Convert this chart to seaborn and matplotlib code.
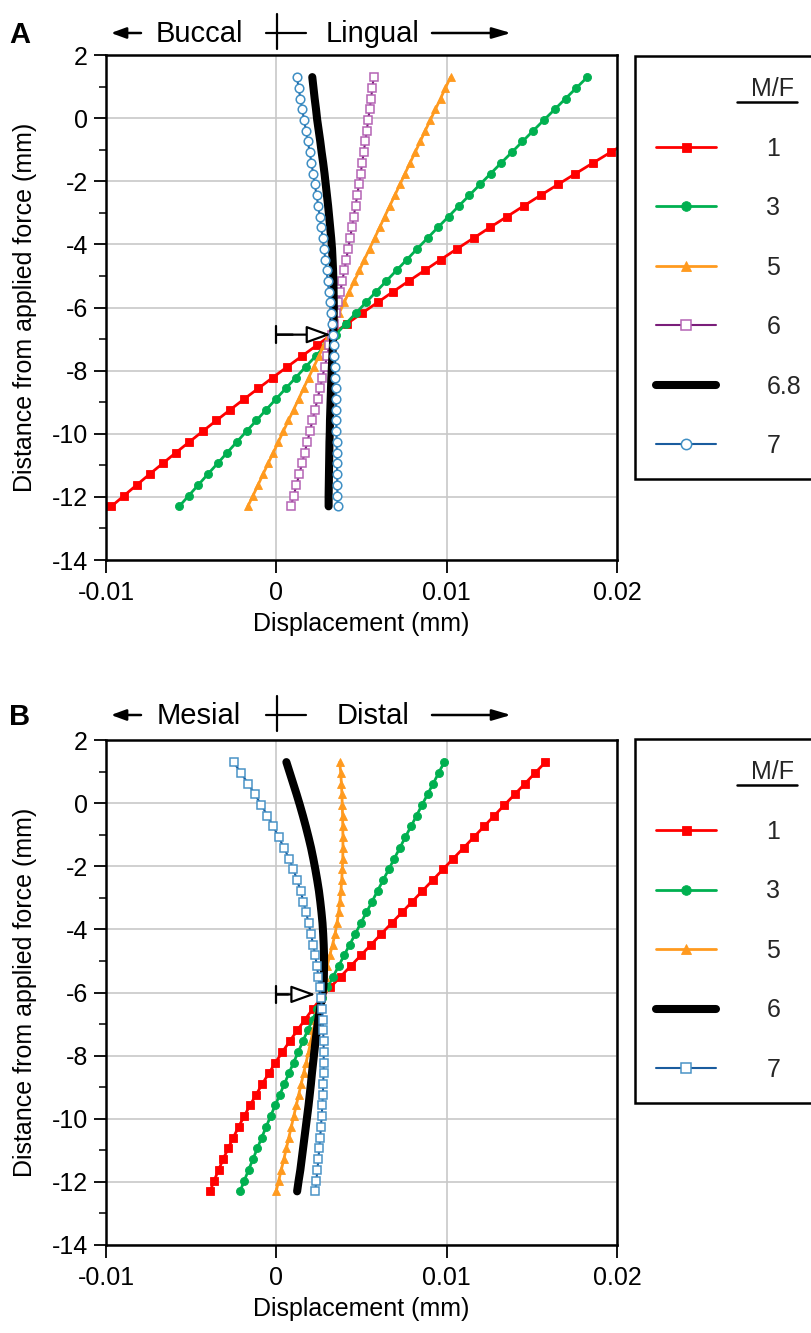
import numpy as np
import matplotlib
matplotlib.use("Agg")
import matplotlib.pyplot as plt
import seaborn as sns
from matplotlib.patches import FancyArrowPatch
from matplotlib.lines import Line2D
from matplotlib.ticker import MultipleLocator

# ---------------- data ----------------
# depth along the tooth (mm from the applied force), shared by all curves
depth_mm = [1.30, 0.96, 0.62, 0.28, -0.06, -0.40, -0.74, -1.08, -1.42, -1.76,
            -2.10, -2.44, -2.78, -3.12, -3.46, -3.80, -4.14, -4.48, -4.82, -5.16,
            -5.50, -5.84, -6.18, -6.52, -6.86, -7.20, -7.54, -7.88, -8.22, -8.56,
            -8.90, -9.24, -9.58, -9.92, -10.26, -10.60, -10.94, -11.28, -11.62, -11.96,
            -12.30]

# Panel A (bucco-lingual) displacement, micrometres
a_mf1_um = [27.17, 26.07, 24.97, 23.88, 22.81, 21.74, 20.68, 19.63, 18.59, 17.56,
            16.54, 15.53, 14.53, 13.54, 12.55, 11.58, 10.61, 9.66, 8.72, 7.78,
            6.85, 5.94, 5.03, 4.13, 3.25, 2.37, 1.50, 0.64, -0.21, -1.05,
            -1.89, -2.71, -3.52, -4.32, -5.11, -5.90, -6.67, -7.44, -8.19, -8.94,
            -9.68]
a_mf3_um = [18.26, 17.62, 16.98, 16.35, 15.71, 15.08, 14.45, 13.83, 13.20, 12.58,
            11.96, 11.34, 10.72, 10.11, 9.49, 8.88, 8.27, 7.67, 7.06, 6.46,
            5.86, 5.26, 4.67, 4.07, 3.48, 2.89, 2.31, 1.72, 1.14, 0.56,
            -0.02, -0.60, -1.17, -1.75, -2.32, -2.89, -3.45, -4.02, -4.58, -5.14,
            -5.70]
a_mf5_um = [10.23, 9.93, 9.64, 9.34, 9.04, 8.74, 8.45, 8.15, 7.85, 7.55,
            7.26, 6.96, 6.66, 6.36, 6.07, 5.77, 5.47, 5.17, 4.88, 4.58,
            4.28, 3.98, 3.69, 3.39, 3.09, 2.79, 2.50, 2.20, 1.90, 1.60,
            1.31, 1.01, 0.71, 0.41, 0.12, -0.18, -0.48, -0.78, -1.07, -1.37,
            -1.67]
a_mf6_um = [5.71, 5.64, 5.56, 5.48, 5.39, 5.31, 5.22, 5.13, 5.04, 4.95,
            4.85, 4.75, 4.65, 4.54, 4.44, 4.33, 4.22, 4.10, 3.99, 3.87,
            3.75, 3.63, 3.50, 3.37, 3.24, 3.11, 2.98, 2.84, 2.70, 2.56,
            2.42, 2.27, 2.12, 1.97, 1.82, 1.66, 1.51, 1.35, 1.18, 1.02,
            0.85]
a_mf68_um = [2.11, 2.18, 2.25, 2.33, 2.40, 2.49, 2.58, 2.66, 2.75, 2.83,
             2.90, 2.97, 3.04, 3.10, 3.16, 3.22, 3.27, 3.30, 3.33, 3.35,
             3.36, 3.37, 3.37, 3.36, 3.34, 3.32, 3.29, 3.26, 3.23, 3.21,
             3.19, 3.17, 3.15, 3.14, 3.12, 3.11, 3.10, 3.09, 3.08, 3.07,
             3.07]
a_mf7_um = [1.21, 1.31, 1.41, 1.52, 1.63, 1.74, 1.85, 1.96, 2.06, 2.16,
            2.26, 2.36, 2.46, 2.55, 2.64, 2.72, 2.80, 2.88, 2.95, 3.02,
            3.09, 3.15, 3.21, 3.27, 3.32, 3.36, 3.40, 3.43, 3.46, 3.48,
            3.50, 3.51, 3.52, 3.53, 3.54, 3.55, 3.56, 3.57, 3.58, 3.59,
            3.60]

# Panel B (mesio-distal) displacement, micrometres
b_mf1_um = [15.80, 15.20, 14.60, 14.00, 13.39, 12.79, 12.19, 11.59, 10.99, 10.38,
            9.78, 9.18, 8.58, 7.98, 7.38, 6.77, 6.17, 5.57, 4.97, 4.37,
            3.77, 3.16, 2.62, 2.14, 1.68, 1.23, 0.79, 0.36, -0.05, -0.44,
            -0.83, -1.19, -1.55, -1.89, -2.22, -2.53, -2.83, -3.12, -3.39, -3.65,
            -3.89]
b_mf3_um = [9.86, 9.53, 9.21, 8.88, 8.55, 8.23, 7.90, 7.57, 7.25, 6.92,
            6.60, 6.27, 5.94, 5.62, 5.29, 4.96, 4.64, 4.31, 3.98, 3.66,
            3.33, 3.00, 2.70, 2.41, 2.13, 1.84, 1.56, 1.29, 1.01, 0.74,
            0.47, 0.20, -0.07, -0.34, -0.60, -0.86, -1.12, -1.37, -1.63, -1.88,
            -2.13]
b_mf5_um = [3.72, 3.78, 3.82, 3.85, 3.87, 3.89, 3.90, 3.91, 3.91, 3.90,
            3.87, 3.84, 3.79, 3.73, 3.66, 3.56, 3.45, 3.30, 3.14, 2.98,
            2.84, 2.72, 2.60, 2.45, 2.31, 2.17, 2.03, 1.89, 1.75, 1.60,
            1.46, 1.31, 1.17, 1.02, 0.88, 0.73, 0.59, 0.44, 0.29, 0.14,
            -0.01]
b_mf6_um = [0.59, 0.79, 0.99, 1.19, 1.38, 1.56, 1.73, 1.89, 2.04, 2.17,
            2.29, 2.40, 2.50, 2.58, 2.65, 2.71, 2.75, 2.78, 2.80, 2.80,
            2.79, 2.76, 2.68, 2.56, 2.46, 2.38, 2.30, 2.23, 2.16, 2.09,
            2.03, 1.96, 1.89, 1.81, 1.73, 1.65, 1.57, 1.49, 1.41, 1.31,
            1.22]
b_mf7_um = [-2.51, -2.08, -1.66, -1.26, -0.88, -0.52, -0.18, 0.14, 0.45, 0.75,
            1.00, 1.22, 1.42, 1.59, 1.75, 1.89, 2.03, 2.16, 2.28, 2.38,
            2.47, 2.55, 2.62, 2.68, 2.72, 2.75, 2.77, 2.78, 2.78, 2.77,
            2.75, 2.73, 2.70, 2.66, 2.62, 2.57, 2.52, 2.47, 2.41, 2.35,
            2.28]

labels_a = ["1", "3", "5", "6", "6.8", "7"]
labels_b = ["1", "3", "5", "6", "7"]

# centre-of-rotation arrows: (tip displacement um, depth mm)
pivot_a = (3.2, -6.86)
pivot_b = (2.3, -6.06)

x_ticks_mm = [-0.01, 0, 0.01, 0.02]
x_tick_labels = ["-0.01", "0", "0.01", "0.02"]
y_ticks = [2, 0, -2, -4, -6, -8, -10, -12, -14]

header_a = ("A", "Buccal", "Lingual")
header_b = ("B", "Mesial", "Distal")
x_label = "Displacement (mm)"
y_label = "Distance from applied force (mm)"
legend_title = "M/F"

# ---------------- styles ----------------
RED = dict(color="#FF0000", marker="s", markersize=5.4, markerfacecolor="#FF0000",
           markeredgecolor="#FF0000", markeredgewidth=0.6, linewidth=2.0)
GREEN = dict(color="#00B050", marker="o", markersize=5.8, markerfacecolor="#00B050",
             markeredgecolor="#00B050", markeredgewidth=0.6, linewidth=2.0)
ORANGE = dict(color="#FF9A1F", marker="^", markersize=6.0, markerfacecolor="#FF9A1F",
              markeredgecolor="#FF9A1F", markeredgewidth=0.6, linewidth=2.0)
PURPLE = dict(color="#7A1E7A", marker="s", markersize=6.3, markerfacecolor="white",
              markeredgecolor="#B463B4", markeredgewidth=1.1, linewidth=1.5)
BLACK = dict(color="black", linewidth=5.8)
BLUE_O = dict(color="#1A5C9E", marker="o", markersize=6.2, markerfacecolor="white",
              markeredgecolor="#3F8FC4", markeredgewidth=1.1, linewidth=1.5)
BLUE_S = dict(color="#1A5C9E", marker="s", markersize=6.3, markerfacecolor="white",
              markeredgecolor="#4A93C6", markeredgewidth=1.1, linewidth=1.5)

sns.set_theme(style="ticks")
plt.rcParams["font.family"] = ["Liberation Sans", "DejaVu Sans"]
plt.rcParams["axes.unicode_minus"] = False

W, H = 811, 1333
fig = plt.figure(figsize=(W / 100, H / 100), dpi=100)


def fx(px):
    return px / W


def fy(py):
    return 1 - py / H


def rect(left, top, right, bottom):
    return [fx(left), fy(bottom), (right - left) / W, (bottom - top) / H]


def draw_panel(box, series, labels, styles, pivot, leg_top, leg_bottom):
    ax = fig.add_axes(rect(*box))
    for xs, lab, st in zip(series, labels, styles):
        sns.lineplot(x=np.asarray(xs) / 1000.0, y=depth_mm, ax=ax, sort=False,
                     estimator=None, label=lab, **st)
    ax.set_xlim(-0.01, 0.02)
    ax.set_ylim(-14, 2)
    ax.set_xticks(x_ticks_mm, x_tick_labels)
    ax.set_yticks(y_ticks)
    ax.yaxis.set_minor_locator(MultipleLocator(1))
    ax.grid(True, which="major", color="#C8C8C8", linewidth=1.2)
    ax.set_axisbelow(True)
    for sp in ax.spines.values():
        sp.set_visible(True)
        sp.set_color("black")
        sp.set_linewidth(1.8)
    ax.tick_params(which="major", direction="out", length=9, width=1.3,
                   labelsize=18, color="black", labelcolor="black")
    ax.tick_params(which="minor", direction="out", length=5, width=1.1, color="black")
    ax.tick_params(axis="x", which="both", pad=6, top=False)
    ax.tick_params(axis="y", which="both", pad=4, right=False)
    ax.tick_params(axis="x", which="minor", bottom=False)
    ax.set_xlabel(x_label, fontsize=18, color="black", labelpad=5)
    ax.set_ylabel(y_label, fontsize=18, color="black")
    ax.yaxis.set_label_coords(-0.135, 0.5)

    tip_x = pivot[0] / 1000.0
    ax.annotate("", xy=(tip_x, pivot[1]), xytext=(0, pivot[1]), zorder=6,
                arrowprops=dict(arrowstyle="-|>,head_length=0.75,head_width=0.27",
                                fc="white", ec="black", lw=1.6, shrinkA=0, shrinkB=0,
                                mutation_scale=20))
    ax.annotate("", xy=(tip_x * 0.3, pivot[1]), xytext=(0, pivot[1]), zorder=6,
                arrowprops=dict(arrowstyle="]-,widthA=0.3,lengthA=0",
                                ec="black", lw=1.6, shrinkA=0, shrinkB=0,
                                mutation_scale=20))

    leg = ax.legend(loc="upper left",
                    bbox_to_anchor=(fx(635), fy(leg_bottom), 180 / W,
                                    (leg_bottom - leg_top) / H),
                    bbox_transform=fig.transFigure, mode="expand",
                    borderaxespad=0, borderpad=0.85, labelspacing=1.42,
                    handlelength=2.4, handletextpad=2.0, fontsize=18,
                    title=legend_title, title_fontsize=18, alignment="right",
                    frameon=True, fancybox=False, edgecolor="black",
                    framealpha=1, numpoints=1, markerscale=1.2)
    leg.get_frame().set_linewidth(1.8)
    return ax, leg


def header(texts, y):
    letter, left_word, right_word = texts
    fig.text(fx(9), fy(y + 11), letter, fontsize=21, fontweight="bold",
             ha="left", va="baseline", color="black")
    fig.text(fx(199), fy(y + 10), left_word, fontsize=21, ha="center",
             va="baseline", color="black")
    fig.text(fx(373), fy(y + 10), right_word, fontsize=21, ha="center",
             va="baseline", color="black")
    for (x0, x1, hl) in [(141, 111, 0.6), (432, 511, 0.75)]:
        fig.add_artist(FancyArrowPatch((fx(x0), fy(y + 1)), (fx(x1), fy(y + 1)),
                                       transform=fig.transFigure,
                                       arrowstyle=f"-|>,head_length={hl},head_width=0.22",
                                       mutation_scale=15, lw=1.8, color="black",
                                       shrinkA=0, shrinkB=0))
    fig.add_artist(Line2D([fx(277), fx(277)], [fy(y - 18), fy(y + 17)],
                          transform=fig.transFigure, color="black", lw=1.6))
    fig.add_artist(Line2D([fx(266), fx(306)], [fy(y + 1), fy(y + 1)],
                          transform=fig.transFigure, color="black", lw=1.6))


ax_a, leg_a = draw_panel((106, 55, 617, 560),
                         [a_mf1_um, a_mf3_um, a_mf5_um, a_mf6_um, a_mf68_um, a_mf7_um],
                         labels_a, [RED, GREEN, ORANGE, PURPLE, BLACK, BLUE_O],
                         pivot_a, 56, 480)
ax_b, leg_b = draw_panel((106, 740, 617, 1245),
                         [b_mf1_um, b_mf3_um, b_mf5_um, b_mf6_um, b_mf7_um],
                         labels_b, [RED, GREEN, ORANGE, BLACK, BLUE_S],
                         pivot_b, 739, 1100)

header(header_a, 32)
header(header_b, 714)

# underline the legend titles
fig.canvas.draw()
inv = fig.transFigure.inverted()
for leg in (leg_a, leg_b):
    bb = leg.get_title().get_window_extent()
    (x0, y0) = inv.transform((bb.x0 - 14, bb.y0 - 1))
    (x1, _) = inv.transform((bb.x1 + 3, bb.y0 - 1))
    fig.add_artist(Line2D([x0, x1], [y0, y0], transform=fig.transFigure,
                          color="black", lw=1.8))

fig.savefig("out.png", dpi=100)
